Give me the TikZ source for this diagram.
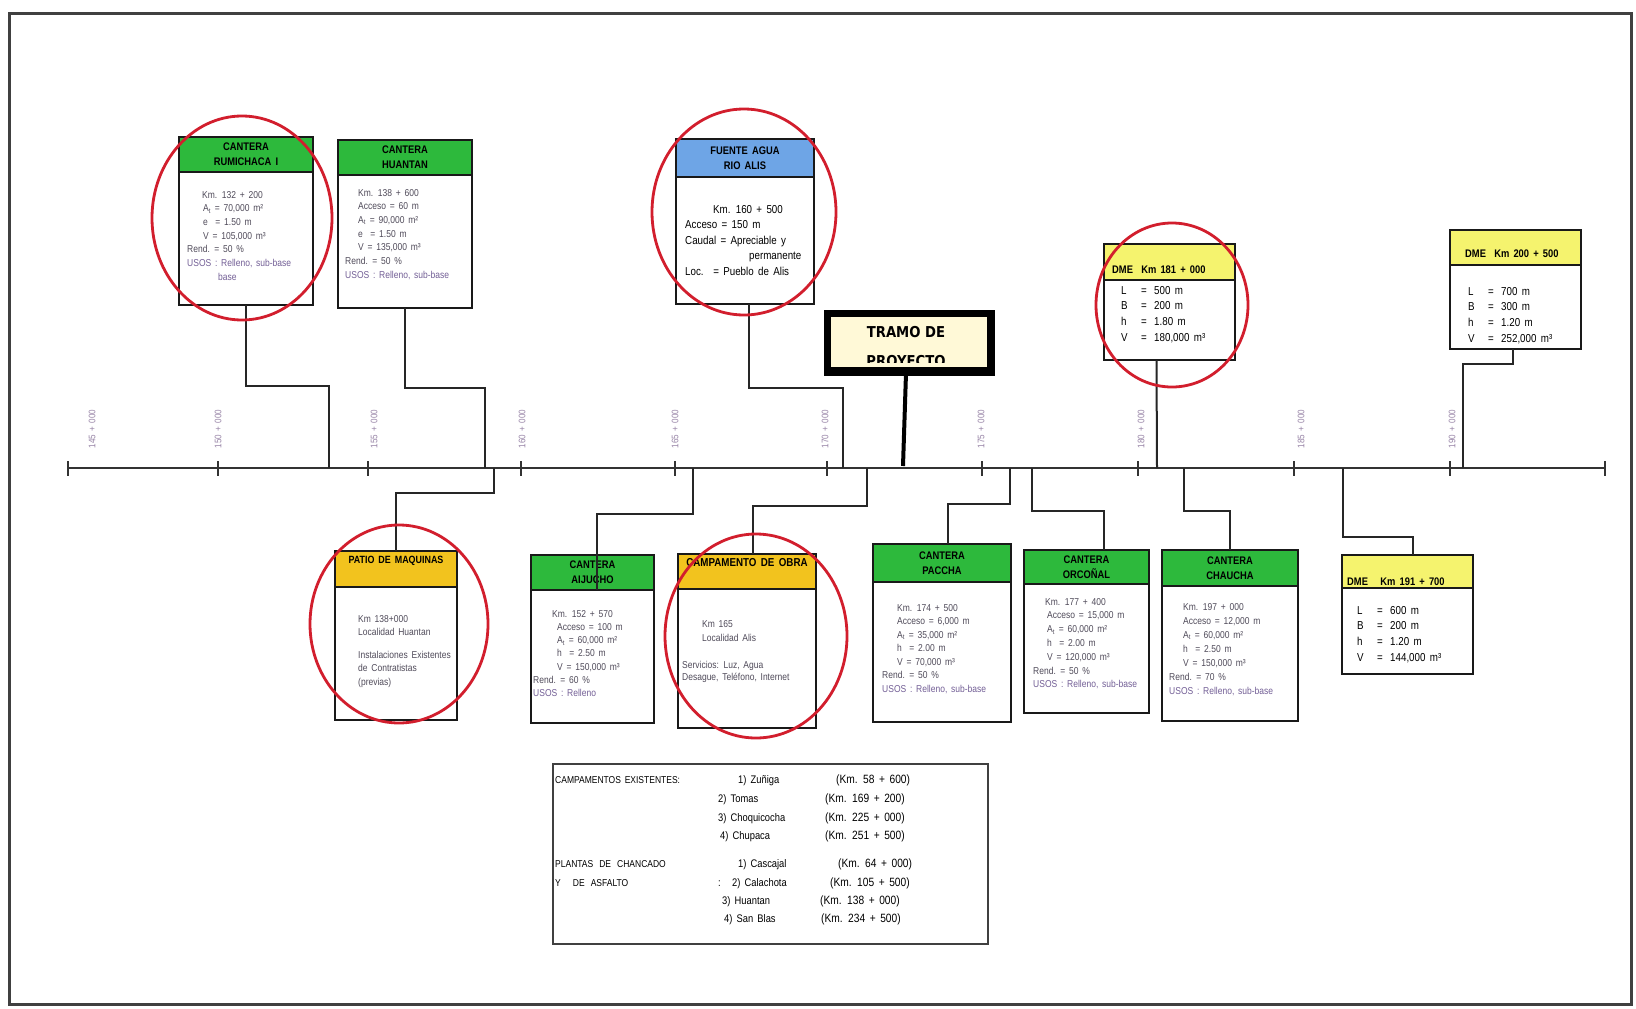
\documentclass[tikz,border=0pt]{standalone}
\usepackage{fontspec}
\setmainfont{Liberation Sans}
\newfontfamily\cf{Liberation Sans}[FakeStretch=0.85]
\newfontfamily\cfw{Liberation Sans}[FakeStretch=0.85,WordSpace=1.6]
\newfontfamily\heavy{DejaVu Sans}[FakeStretch=0.88]
\definecolor{hgreen}{RGB}{45,185,60}
\definecolor{hblue}{RGB}{110,165,230}
\definecolor{hgold}{RGB}{242,195,30}
\definecolor{hyellow}{RGB}{245,243,110}
\definecolor{tramofill}{RGB}{255,249,215}
\definecolor{ringred}{RGB}{210,30,45}
\definecolor{bodyg}{RGB}{80,75,90}
\definecolor{usosp}{RGB}{115,95,150}
\definecolor{ticklab}{RGB}{150,130,165}
\newcommand{\tl}[1]{\begin{tabular}[t]{@{}l@{}}#1\end{tabular}}
\newcommand{\dl}[2]{\makebox[20pt][l]{#1}\makebox[13pt][l]{=}#2}
\begin{document}
\begin{tikzpicture}[x=1pt,y=-1pt,
 box/.style={draw=black!90, line width=2.2pt, fill=white, anchor=north west, inner sep=0pt, outer sep=0pt},
 hdr/.style={draw=black!90, line width=2.2pt, anchor=north west, inner sep=0pt, outer sep=0pt, align=center, font=\cf\bfseries\fontsize{11}{15}\selectfont},
 body/.style={anchor=base west, inner sep=0pt, text=bodyg, font=\cf\fontsize{10}{13.7}\selectfont},
 dbody/.style={anchor=base west, inner sep=0pt, text=black, font=\cf\fontsize{11.5}{15.8}\selectfont},
 dhead/.style={anchor=base west, inner sep=0pt, text=black, font=\cf\bfseries\fontsize{11}{13}\selectfont},
 conn/.style={draw=black!85, line width=2pt},
 ring/.style={draw=ringred, line width=2.8pt},
 legh/.style={anchor=base west, inner sep=0pt, font=\cf\fontsize{10}{12}\selectfont},
 legi/.style={anchor=base west, inner sep=0pt, font=\cf\fontsize{11}{12}\selectfont},
 legk/.style={anchor=base west, inner sep=0pt, font=\cfw\fontsize{12}{12}\selectfont},
 ticklabel/.style={rotate=90, inner sep=0pt, text=ticklab, font=\cf\fontsize{9.5}{10}\selectfont}
]
\fill[white] (0,0) rectangle (1636,1009);
\useasboundingbox (0,0) rectangle (1636,1009);

% frame
\node[draw=black!75, line width=3pt, minimum width=1622pt, minimum height=991pt, anchor=north west, inner sep=0pt] (frame) at (8,12) {};

% axis
\coordinate (axL) at (68,468);
\coordinate (axR) at (1605,468);
\draw[line width=2.5pt, black!80] (axL) -- (axR);
\foreach \x in {68,218,368,521,675,827,982,1138,1294,1450,1605}
  \draw[line width=2pt, black!80] (\x,461) -- (\x,476);
\foreach \x/\t in {92/145,218/150,374/155,522/160,675/165,825/170,981/175,1141/180,1301/185,1452/190}
  \node[ticklabel] (tk\t) at (\x,429) {\t\ + 000};

% axis attachment points
\coordinate (ax1) at (329,468);
\coordinate (ax2) at (485,468);
\coordinate (ax3) at (843,468);
\coordinate (ax4) at (903,466);
\coordinate (ax5) at (1157,468);
\coordinate (ax6) at (1463,468);
\coordinate (ax7) at (494,468);
\coordinate (ax8) at (693,468);
\coordinate (ax9) at (867,468);
\coordinate (ax10) at (1010,468);
\coordinate (ax11) at (1032,468);
\coordinate (ax12) at (1184,468);
\coordinate (ax13) at (1343,468);

% ---------- upper boxes ----------
% Cantera Rumichaca I
\node[box, minimum width=134pt, minimum height=168pt] (rumi) at (179,137) {};
\node[hdr, fill=hgreen, minimum width=134pt, minimum height=35pt] (rumih) at (179,137) {CANTERA\\RUMICHACA I};
\node[body] (rumib) at (187,198) {\tl{\hspace*{15pt}Km. 132 + 200\\
\hspace*{16pt}A\textsubscript{t} = 70,000 m²\\
\hspace*{16pt}e \ = 1.50 m\\
\hspace*{16pt}V = 105,000 m³\\
Rend. = 50 \%\\
{\color{usosp}USOS : Relleno, sub-base}\\
\hspace*{31pt}{\color{usosp}base}}};

% Cantera Huantan
\node[box, minimum width=134pt, minimum height=168pt] (huan) at (338,140) {};
\node[hdr, fill=hgreen, minimum width=134pt, minimum height=35pt] (huanh) at (338,140) {CANTERA\\HUANTAN};
\node[body] (huanb) at (345,196) {\tl{\hspace*{13pt}Km. 138 + 600\\
\hspace*{13pt}Acceso = 60 m\\
\hspace*{13pt}A\textsubscript{t} = 90,000 m²\\
\hspace*{13pt}e \ = 1.50 m\\
\hspace*{13pt}V = 135,000 m³\\
Rend. = 50 \%\\
{\color{usosp}USOS : Relleno, sub-base}}};

% Fuente agua Rio Alis
\node[box, minimum width=138pt, minimum height=165pt] (fuen) at (676,139) {};
\node[hdr, fill=hblue, minimum width=138pt, minimum height=38pt] (fuenh) at (676,139) {FUENTE AGUA\\RIO ALIS};
\node[dbody, font=\cf\fontsize{11.5}{15.5}\selectfont] (fuenb) at (685,213) {\tl{\hspace*{28pt}Km. 160 + 500\\
Acceso = 150 m\\
Caudal = Apreciable y\\
\hspace*{64pt}permanente\\
Loc. \ = Pueblo de Alis}};

% Tramo de proyecto
\node[draw=black, line width=5pt, fill=tramofill, minimum width=161pt, minimum height=56pt, anchor=north west, inner sep=0pt] (tramo) at (826,312) {};
\begin{scope}
\clip (828,314) rectangle (985,362);
\node[anchor=base, inner sep=0pt, font=\heavy\bfseries\fontsize{15}{15}\selectfont] (tramot) at (906,337) {TRAMO DE};
\node[anchor=base, inner sep=0pt, font=\heavy\bfseries\fontsize{15}{15}\selectfont] (tramou) at (906,366) {PROYECTO};
\end{scope}
\draw[line width=5pt] (tramo.north west) rectangle (tramo.south east);
\draw[line width=8pt] ([yshift=2pt]tramo.south west) -- ([yshift=2pt]tramo.south east);

% DME Km 181+000
\node[box, minimum width=131pt, minimum height=116pt] (dmea) at (1104,244) {};
\node[hdr, fill=hyellow, minimum width=131pt, minimum height=36pt] (dmeah) at (1104,244) {};
\node[dhead] (dmeat) at (1112,273) {DME \ Km 181 + 000};
\node[dbody] (dmeab) at (1121,294) {\tl{\dl{L}{500 m}\\ \dl{B}{200 m}\\ \dl{h}{1.80 m}\\ \dl{V}{180,000 m³}}};

% DME Km 200+500
\node[box, minimum width=131pt, minimum height=119pt] (dmec) at (1450,230) {};
\node[hdr, fill=hyellow, minimum width=131pt, minimum height=35pt] (dmech) at (1450,230) {};
\node[dhead] (dmect) at (1465,257) {DME \ Km 200 + 500};
\node[dbody] (dmecb) at (1468,295) {\tl{\dl{L}{700 m}\\ \dl{B}{300 m}\\ \dl{h}{1.20 m}\\ \dl{V}{252,000 m³}}};

% ---------- lower boxes ----------
% Patio de maquinas
\node[box, minimum width=122pt, minimum height=169pt] (pati) at (335,551) {};
\node[hdr, fill=hgold, minimum width=122pt, minimum height=36pt] (patih) at (335,551) {};
\node[inner sep=0pt, font=\cf\bfseries\fontsize{10.5}{12}\selectfont] (patit) at (396,561) {PATIO DE MAQUINAS};
\node[body] (patib) at (358,622) {\tl{Km 138+000\\ Localidad Huantan}};
\node[body] (patic) at (358,658) {\tl{Instalaciones Existentes\\ de Contratistas\\ (previas)}};

% Cantera Aijucho
\node[box, minimum width=123pt, minimum height=168pt] (aiju) at (531,555) {};
\node[hdr, fill=hgreen, minimum width=123pt, minimum height=35pt] (aijuh) at (531,555) {CANTERA\\AIJUCHO};
\node[body, font=\cf\fontsize{10}{13.3}\selectfont] (aijub) at (533,617) {\tl{\hspace*{19pt}Km. 152 + 570\\
\hspace*{24pt}Acceso = 100 m\\
\hspace*{24pt}A\textsubscript{t} = 60,000 m²\\
\hspace*{24pt}h \ = 2.50 m\\
\hspace*{24pt}V = 150,000 m³\\
Rend. = 60 \%\\
{\color{usosp}USOS : Relleno}}};

% Campamento de obra
\node[box, minimum width=138pt, minimum height=174pt] (camp) at (678,554) {};
\node[hdr, fill=hgold, minimum width=138pt, minimum height=35pt] (camph) at (678,554) {};
\node[inner sep=0pt, font=\cf\bfseries\fontsize{11.5}{12}\selectfont] (campt) at (747,563) {CAMPAMENTO DE OBRA};
\node[body, font=\cf\fontsize{10}{14}\selectfont] (campb) at (702,627) {\tl{Km 165\\ Localidad Alis}};
\node[body, font=\cf\fontsize{10}{12.5}\selectfont] (campc) at (682,668) {\tl{Servicios: Luz, Agua\\ Desague, Teléfono, Internet}};

% Cantera Paccha
\node[box, minimum width=138pt, minimum height=178pt] (pacc) at (873,544) {};
\node[hdr, fill=hgreen, minimum width=138pt, minimum height=38pt] (pacch) at (873,544) {CANTERA\\PACCHA};
\node[body, font=\cf\fontsize{10}{13.5}\selectfont] (paccb) at (882,611) {\tl{\hspace*{15pt}Km. 174 + 500\\
\hspace*{15pt}Acceso = 6,000 m\\
\hspace*{15pt}A\textsubscript{t} = 35,000 m²\\
\hspace*{15pt}h \ = 2.00 m\\
\hspace*{15pt}V = 70,000 m³\\
Rend. = 50 \%\\
{\color{usosp}USOS : Relleno, sub-base}}};

% Cantera Orconal
\node[box, minimum width=125pt, minimum height=163pt] (orco) at (1024,550) {};
\node[hdr, fill=hgreen, minimum width=125pt, minimum height=34pt] (orcoh) at (1024,550) {CANTERA\\ORCOÑAL};
\node[body, font=\cf\fontsize{10}{13.8}\selectfont] (orcob) at (1033,605) {\tl{\hspace*{12pt}Km. 177 + 400\\
\hspace*{14pt}Acceso = 15,000 m\\
\hspace*{14pt}A\textsubscript{t} = 60,000 m²\\
\hspace*{14pt}h \ = 2.00 m\\
\hspace*{14pt}V = 120,000 m³\\
Rend. = 50 \%\\
{\color{usosp}USOS : Relleno, sub-base}}};

% Cantera Chaucha
\node[box, minimum width=136pt, minimum height=171pt] (chau) at (1162,550) {};
\node[hdr, fill=hgreen, minimum width=136pt, minimum height=36pt] (chauh) at (1162,550) {CANTERA\\CHAUCHA};
\node[body, font=\cf\fontsize{10}{14}\selectfont] (chaub) at (1169,610) {\tl{\hspace*{14pt}Km. 197 + 000\\
\hspace*{14pt}Acceso = 12,000 m\\
\hspace*{14pt}A\textsubscript{t} = 60,000 m²\\
\hspace*{14pt}h \ = 2.50 m\\
\hspace*{14pt}V = 150,000 m³\\
Rend. = 70 \%\\
{\color{usosp}USOS : Relleno, sub-base}}};

% DME Km 191+700
\node[box, minimum width=131pt, minimum height=119pt] (dmeb) at (1342,555) {};
\node[hdr, fill=hyellow, minimum width=131pt, minimum height=33pt] (dmebh) at (1342,555) {};
\node[dhead] (dmebt) at (1347,585) {DME \ \ Km 191 + 700};
\node[dbody] (dmebb) at (1357,614) {\tl{\dl{L}{600 m}\\ \dl{B}{200 m}\\ \dl{h}{1.20 m}\\ \dl{V}{144,000 m³}}};

% ---------- connectors ----------
\draw[conn] (rumi.south) -- ++(0,81) -| (ax1);
\draw[conn] (huan.south) -- ++(0,80) -| (ax2);
\draw[conn] ([xshift=4pt]fuen.south) -- ++(0,84) -| (ax3);
\draw[black, line width=4pt] ([xshift=-3pt]tramo.south) -- (ax4);
\draw[conn] ([xshift=-13pt]dmea.south) -- (ax5);
\draw[conn] ([xshift=-3pt]dmec.south) -- ++(0,15) -| (ax6);
\draw[conn] (ax7) -- ++(0,25) -| (pati.north);
\draw[conn] (ax8) -- ++(0,46) -| ([xshift=4pt]aijuh.south);
\draw[conn] (ax9) -- ++(0,38) -| ([xshift=6pt]camp.north);
\draw[conn] (ax10) -- ++(0,36) -| ([xshift=6pt]pacc.north);
\draw[conn] (ax11) -- ++(0,43) -| ([xshift=17pt]orco.north);
\draw[conn] (ax12) -- ++(0,43) -| (chau.north);
\draw[conn] (ax13) -- ++(0,69) -| ([xshift=5pt]dmeb.north);

% ---------- legend ----------
\node[draw=black!75, line width=2pt, minimum width=435pt, minimum height=180pt, anchor=north west, inner sep=0pt] (legend) at (552,763) {};
\node[legh] (lg1) at (555,783) {CAMPAMENTOS EXISTENTES:};
\node[legi] (lg2) at (738,783) {1) Zuñiga};
\node[legk] (lg3) at (836,783) {(Km. 58 + 600)};
\node[legi] (lg4) at (718,802) {2) Tomas};
\node[legk] (lg5) at (825,802) {(Km. 169 + 200)};
\node[legi] (lg6) at (718,821) {3) Choquicocha};
\node[legk] (lg7) at (825,821) {(Km. 225 + 000)};
\node[legi] (lg8) at (720,839) {4) Chupaca};
\node[legk] (lg9) at (825,839) {(Km. 251 + 500)};
\node[legh] (lg10) at (555,867) {PLANTAS DE CHANCADO};
\node[legi] (lg11) at (738,867) {1) Cascajal};
\node[legk] (lg12) at (838,867) {(Km. 64 + 000)};
\node[legh] (lg13) at (555,886) {Y \ DE ASFALTO};
\node[legi] (lg14) at (718,886) {:};
\node[legi] (lg15) at (732,886) {2) Calachota};
\node[legk] (lg16) at (830,886) {(Km. 105 + 500)};
\node[legi] (lg17) at (722,904) {3) Huantan};
\node[legk] (lg18) at (820,904) {(Km. 138 + 000)};
\node[legi] (lg19) at (724,922) {4) San Blas};
\node[legk] (lg20) at (821,922) {(Km. 234 + 500)};

% ---------- red rings ----------
\draw[ring] (242,218) ellipse [x radius=90pt, y radius=102pt];
\draw[ring] (744,212) ellipse [x radius=92pt, y radius=103pt];
\draw[ring] (1172,305) ellipse [x radius=76pt, y radius=82pt];
\draw[ring] (399,624) ellipse [x radius=89pt, y radius=99pt];
\draw[ring] (756,636) ellipse [x radius=91pt, y radius=102pt];
\end{tikzpicture}
\end{document}
